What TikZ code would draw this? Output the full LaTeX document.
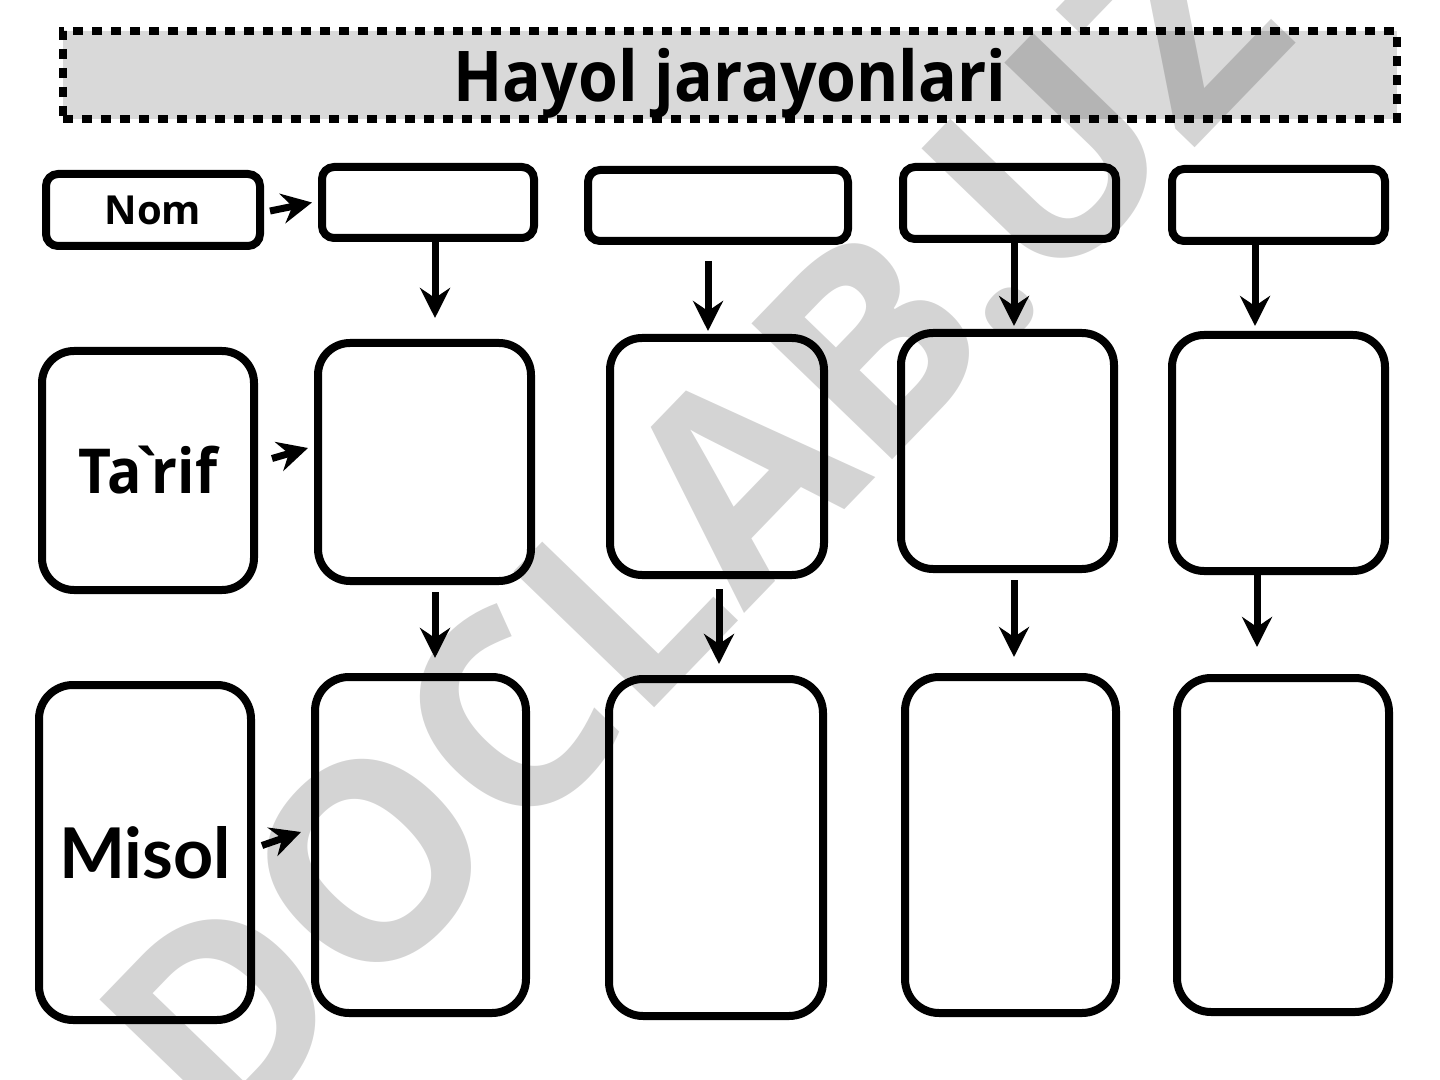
\documentclass[tikz,border=0pt]{standalone}
\usepackage{fontspec}
\setmainfont{Open Sans}
\newfontfamily\titlefont[FakeStretch=0.92]{Open Sans}
\newfontfamily\plainfont[Ligatures=TeXOff, FakeStretch=0.92]{Open Sans}
\newfontfamily\misolfont{Lato}
\usetikzlibrary{arrows.meta}
\definecolor{titlegray}{RGB}{217,217,217}

\begin{document}
\begin{tikzpicture}[
    x=0.5pt, y=-0.5pt,
    box/.style={draw, line width=4pt, rounded corners=6pt, inner sep=0pt, minimum width=106pt, minimum height=36pt},
    tallbox/.style={box, rounded corners=16pt, minimum height=119pt},
    longbox/.style={box, rounded corners=17pt, minimum height=168pt},
    arrow/.style={-{Stealth[length=15pt, width=15pt, inset=5pt]}, line width=3.5pt},
    titlebox/.style={draw, fill=titlegray, line width=4pt, dash pattern=on 5pt off 4.5pt, minimum width=667pt, minimum height=44pt},
    watermark/.style={text=black, text opacity=0.17, font=\bfseries\fontsize{137}{137}\selectfont, rotate=46}
]
\useasboundingbox (0,0) rectangle (1440,1080);

% Title
\node[titlebox] (title) at (730,75) {};
\node (titletext) at (730,83) {\titlefont\bfseries\fontsize{35}{38}\selectfont Hayol jarayonlari};

% Row labels
\node[box, minimum width=107pt] (nom) at (153,210) {\bfseries\fontsize{20}{24}\selectfont Nom};
\node[tallbox, minimum height=119.5pt] (tarif) at (148,470.5) {\plainfont\bfseries\fontsize{31}{36}\selectfont Ta\kern-0.2em`\kern-0.2em rif};
\node[longbox, minimum height=167.5pt] (misol) at (145,852.5) {\misolfont\bfseries\fontsize{35}{40}\selectfont Misol};

% Nom row
\node[box, minimum height=35.5pt] (b11) at (428,202.5) {};
\node[box, minimum width=130pt, minimum height=35.5pt] (b12) at (718,205.5) {};
\node[box, minimum width=106.5pt] (b13) at (1009.5,203) {};
\node[box, minimum width=106.5pt] (b14) at (1278.5,205) {};

% Ta`rif row
\node[tallbox, minimum width=106.5pt] (b21) at (424.5,462) {};
\node[tallbox, minimum width=107pt, minimum height=118.5pt] (b22) at (717,456.5) {};
\node[tallbox, minimum width=106.5pt, minimum height=118pt] (b23) at (1007.5,451) {};
\node[tallbox, minimum width=106.5pt, minimum height=118pt] (b24) at (1278.5,453) {};

% Misol row
\node[longbox, minimum width=105.5pt] (b31) at (420.5,845) {};
\node[longbox, minimum width=107pt, minimum height=168.5pt] (b32) at (716,847.5) {};
\node[longbox, minimum width=105.5pt] (b33) at (1010.5,845) {};
\node[longbox, minimum height=167pt] (b34) at (1283,845) {};

% Arrows from labels
\draw[arrow] ([xshift=3pt, yshift=-0.5pt]nom.east) -- ([xshift=-3pt]b11.west);
\draw[arrow] ([xshift=7pt, yshift=6pt]tarif.east) -- ([xshift=-3pt, yshift=7pt]b21.west);
\draw[arrow] ([xshift=3.5pt, yshift=3.5pt]misol.east) -- ([xshift=-5pt, yshift=6.5pt]b31.west);

% Arrows down
\draw[arrow] ([xshift=3.5pt]b11.south) -- ([xshift=5.25pt, yshift=10.5pt]b21.north);
\draw[arrow] ([xshift=-5pt, yshift=-8pt]b12.south) -- ([xshift=-4.5pt, yshift=1.5pt]b22.north);
\draw[arrow] ([xshift=2.25pt]b13.south) -- ([xshift=3.25pt, yshift=1.5pt]b23.north);
\draw[arrow] ([xshift=-11.75pt]b14.south) -- ([xshift=-11.75pt, yshift=2.5pt]b24.north);

\draw[arrow] ([xshift=5.25pt, yshift=-3.5pt]b21.south) -- ([xshift=7.25pt, yshift=7.5pt]b31.north);
\draw[arrow] ([xshift=1pt, yshift=-5pt]b22.south) -- ([xshift=1.5pt, yshift=5.5pt]b32.north);
\draw[arrow] ([xshift=3.25pt, yshift=-3.5pt]b23.south) -- ([xshift=1.75pt, yshift=8pt]b33.north);
\draw[arrow] ([xshift=-10.75pt, yshift=3.5pt]b24.south) -- ([xshift=-13pt, yshift=13.5pt]b34.north);

% Watermark
\node[watermark] (wm) at (692,528) {DOCLAB.UZ};

\end{tikzpicture}
\end{document}
